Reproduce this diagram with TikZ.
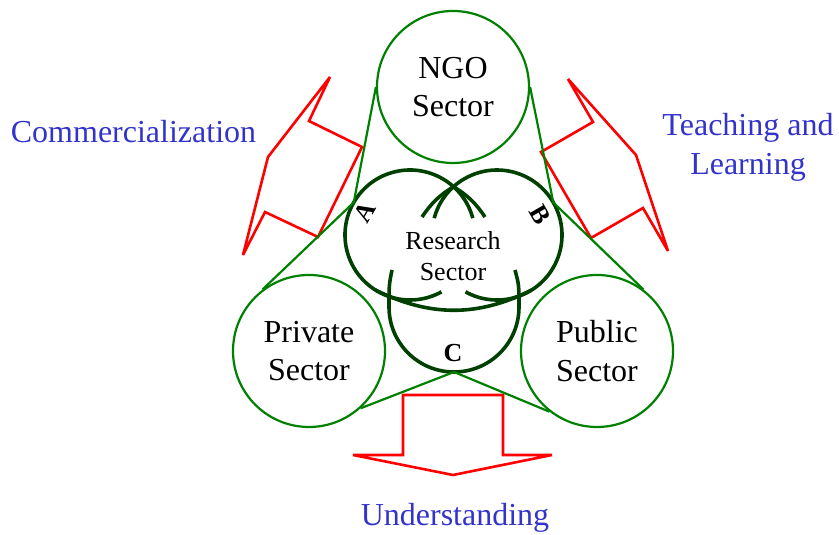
\documentclass[tikz,border=0pt]{standalone}
\usepackage{fontspec}
\setmainfont{Liberation Serif}
\usetikzlibrary{calc}
\newcommand{\RR}{65}
\definecolor{sgreen}{RGB}{0,128,0}
\definecolor{rgreen}{RGB}{0,64,0}
\definecolor{lblue}{RGB}{51,51,204}

\begin{document}
\begin{tikzpicture}[
    x=1pt, y=1pt,
    sect/.style={circle, draw=sgreen, line width=2.2pt, minimum size=152pt, inner sep=0pt,
                 align=center, font=\fontsize{32}{38.4}\selectfont},
    link/.style={draw=sgreen, line width=2.2pt},
    ring/.style={draw=rgreen, line width=3.6pt},
    arw/.style={draw=red, line width=2.6pt, line join=miter, miter limit=5},
    lbl/.style={text=lblue, align=center, font=\fontsize{32}{38.4}\selectfont},
    tag/.style={font=\bfseries\fontsize{26}{26}\selectfont},
  ]
  \useasboundingbox (0,0) rectangle (839,535);

  %% ================= the three sectors =================
  \node[sect] (ngo)  at (453,448) {NGO\\Sector};
  \node[sect] (priv) at (309,184) {Private\\Sector};
  \node[sect] (pub)  at (597,184) {Public\\Sector};

  %% ================= red arrows (drawn under the links) =================
  \draw[arw] (330,458) -- (309,414) -- (362,388) -- (318,298) -- (265,323) -- (243,280) -- (268,378) -- cycle;
  \draw[arw] (568,456) -- (593,413) -- (541,383) -- (591,297) -- (643,327) -- (668,284) -- (636,380) -- cycle;
  \draw[arw] (403,140) -- (503,140) -- (503,80) -- (552,80) -- (453,60) -- (353,80) -- (403,80) -- cycle;

  %% ================= research rings =================
  \coordinate (ringA) at (410,300);
  \coordinate (ringB) at (497,300);
  \coordinate (ringC) at (454,228);
  \coordinate (tA) at ($(ringA)+(150:\RR)$);
  \coordinate (tB) at ($(ringB)+(30:\RR)$);
  \coordinate (tC) at ($(ringC)+(270:\RR)$);
  \coordinate (cross) at (453.5,348.3);

  \draw[ring] ($(ringA)+(15:\RR)$)  arc[start angle=15,  end angle=299, radius=\RR];
  \draw[ring] ($(ringB)+(241:\RR)$) arc[start angle=241, end angle=525, radius=\RR];
  \draw[ring] (392,265) .. controls (389,250) .. ($(ringC)+(180:\RR)$)
              arc[start angle=180, end angle=360, radius=\RR] .. controls (519,250) .. (515,265);
  % doubled strokes where A and B cross, and the lower sweep
  \draw[ring] (cross) to[bend left=12]  (485,318);
  \draw[ring] (cross) to[bend right=12] (422,318);
  \draw[ring] ($(ringA)+(238:\RR)$) .. controls (430,218) and (478,218) .. ($(ringB)+(302:\RR)$);

  %% ================= green links =================
  \draw[link] (ngo.west) -- (tA) -- (priv.127);
  \draw[link] (ngo.east) -- (tB) -- (pub.53);
  \draw[link] (priv.-48) -- (tC) -- (pub.232);

  %% ================= labels =================
  \node[tag, rotate=60]  (la) at (365,323)   {A};
  \node[tag, rotate=-60] (lb) at (540,320)   {B};
  \node[tag]             (lc) at (453,181.5) {C};
  \node[font=\fontsize{26}{31}\selectfont, align=center] (res) at (453,278.5) {Research\\Sector};

  \node[lbl, anchor=base] (com) at (133.5,392) {Commercialization};
  \node[lbl]              (tea) at (748,387.5) {Teaching and\\Learning};
  \node[lbl, anchor=base] (und) at (455,9)     {Understanding};

\end{tikzpicture}
\end{document}
